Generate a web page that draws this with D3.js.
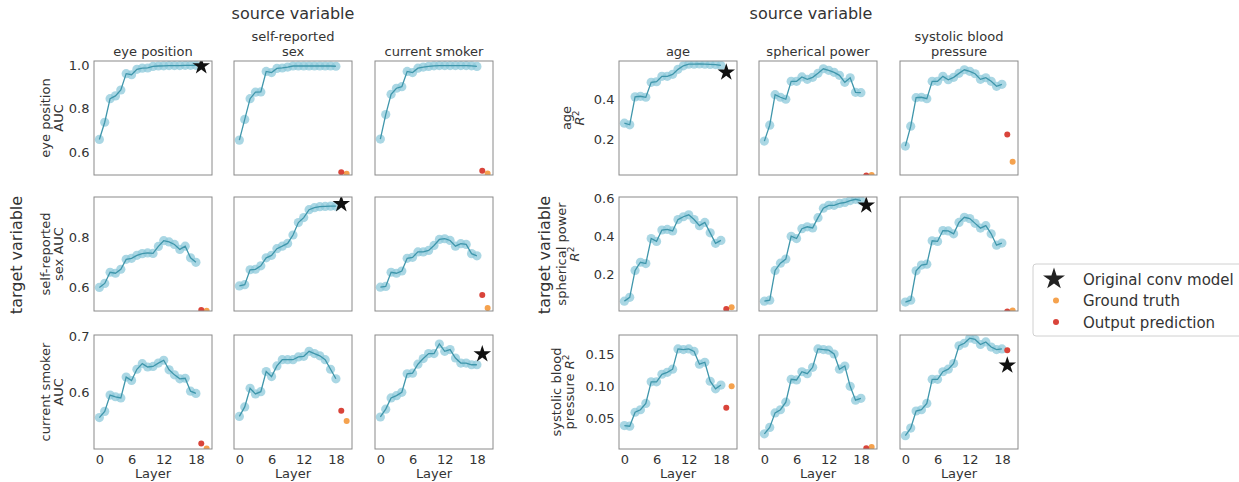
<!DOCTYPE html>
<html>
<head>
<meta charset="utf-8">
<script src="https://cdn.jsdelivr.net/npm/d3@7"></script>
<style>
body { margin: 0; background: #fff; }
svg { font-family: "DejaVu Sans", sans-serif; }
</style>
</head>
<body>
<svg id="chart" width="1239" height="482"></svg>
<script>
// layers on the x axis
var layers = [0,1,2,3,4,5,6,7,8,9,10,11,12,13,14,15,16,17,18]
var xTicks = [0, 6, 12, 18]

// left group : AUC, target rows x source columns
var leftSources = [["eye position"], ["self-reported", "sex"], ["current smoker"]]
var leftTargets = [["eye position", "AUC"], ["self-reported", "sex AUC"], ["current smoker", "AUC"]]
var eye_eye = [0.658,0.737,0.845,0.858,0.885,0.96,0.955,0.98,0.985,0.986,0.993,0.995,0.996,0.997,0.997,0.997,0.998,0.998,0.998]
var eye_sex = [0.655,0.75,0.845,0.875,0.876,0.97,0.965,0.984,0.986,0.99,0.995,0.995,0.995,0.995,0.995,0.995,0.995,0.995,0.994]
var eye_smk = [0.66,0.772,0.865,0.893,0.9,0.97,0.965,0.985,0.99,0.993,0.996,0.997,0.997,0.997,0.997,0.997,0.997,0.996,0.993]
var sex_eye = [0.599,0.615,0.66,0.656,0.672,0.712,0.716,0.728,0.735,0.738,0.736,0.764,0.787,0.782,0.772,0.752,0.765,0.718,0.70]
var sex_sex = [0.605,0.61,0.67,0.672,0.686,0.718,0.728,0.755,0.765,0.776,0.81,0.86,0.88,0.912,0.92,0.924,0.925,0.926,0.926]
var sex_smk = [0.6,0.603,0.66,0.656,0.665,0.716,0.72,0.742,0.742,0.748,0.768,0.792,0.795,0.788,0.765,0.775,0.772,0.735,0.726]
var smk_eye = [0.555,0.566,0.595,0.592,0.59,0.627,0.621,0.641,0.651,0.645,0.646,0.652,0.657,0.64,0.631,0.624,0.625,0.602,0.598]
var smk_sex = [0.557,0.574,0.607,0.597,0.601,0.637,0.628,0.647,0.658,0.658,0.658,0.663,0.664,0.673,0.669,0.665,0.658,0.641,0.624]
var smk_smk = [0.556,0.57,0.59,0.594,0.6,0.633,0.634,0.65,0.66,0.669,0.669,0.686,0.673,0.676,0.661,0.652,0.652,0.649,0.649]
var leftPred  = [[null,0.508,0.515],[0.508,null,0.568],[0.509,0.567,null]]
var leftTruth = [[null,0.501,0.502],[0.505,null,0.516],[0.5,0.549,null]]
var leftOrig  = [0.995, 0.935, 0.668]
var leftYTicks = [[0.6,0.8,1.0],[0.6,0.8],[0.6,0.7]]

// right group : R^2
var rightSources = [["age"], ["spherical power"], ["systolic blood", "pressure"]]
var rightTargets = [["age", "R²"], ["spherical power", "R²"], ["systolic blood", "pressure R²"]]
var age_age = [0.28,0.272,0.412,0.415,0.41,0.485,0.488,0.515,0.515,0.525,0.55,0.568,0.576,0.576,0.577,0.576,0.575,0.574,0.57]
var age_sph = [0.19,0.27,0.423,0.41,0.4,0.49,0.49,0.512,0.5,0.51,0.53,0.553,0.545,0.535,0.52,0.485,0.508,0.435,0.433]
var age_sbp = [0.165,0.265,0.408,0.41,0.403,0.49,0.49,0.515,0.498,0.51,0.53,0.548,0.54,0.528,0.5,0.508,0.49,0.465,0.475]
var sph_age = [0.06,0.08,0.222,0.265,0.258,0.39,0.375,0.435,0.438,0.43,0.49,0.505,0.515,0.49,0.458,0.475,0.42,0.365,0.38]
var sph_sph = [0.06,0.065,0.222,0.26,0.282,0.402,0.39,0.442,0.452,0.446,0.5,0.55,0.565,0.565,0.575,0.58,0.59,0.597,0.59]
var sph_sbp = [0.055,0.065,0.22,0.25,0.255,0.378,0.375,0.432,0.43,0.415,0.475,0.502,0.495,0.47,0.445,0.458,0.415,0.355,0.366]
var sbp_age = [0.038,0.037,0.059,0.063,0.073,0.107,0.107,0.119,0.122,0.127,0.159,0.158,0.159,0.155,0.135,0.138,0.108,0.096,0.102]
var sbp_sph = [0.025,0.035,0.058,0.063,0.075,0.111,0.11,0.123,0.12,0.13,0.159,0.158,0.157,0.151,0.127,0.132,0.1,0.078,0.081]
var sbp_sbp = [0.022,0.034,0.061,0.063,0.073,0.111,0.111,0.123,0.127,0.136,0.164,0.168,0.176,0.174,0.166,0.17,0.162,0.158,0.159]
var rightPred  = [[null,0.018,0.223],[0.019,null,0.006],[0.066,0.002,0.157]]
var rightTruth = [[null,0.02,0.087],[0.028,null,0.01],[0.1,0.004,null]]
var rightOrig  = [0.535, 0.565, 0.133]
var rightYTicks = [[0.2,0.4],[0.2,0.4,0.6],[0.05,0.10,0.15]]

var legendLabels = ["Original conv model", "Ground truth", "Output prediction"]

var panelW = 118, panelH = 114
var rowTop = [61, 197, 335]
var lineColor = "#3f96ab", markerColor = "#8ecadb",
    predColor = "#d9443a", truthColor = "#f5a24e", textColor = "#333"

var groups = [
    {cols: [94, 234, 375], sources: leftSources, targets: leftTargets,
     series: [[eye_eye, eye_sex, eye_smk], [sex_eye, sex_sex, sex_smk], [smk_eye, smk_sex, smk_smk]],
     pred: leftPred, truth: leftTruth, orig: leftOrig, yTicks: leftYTicks,
     yDomains: [[0.495, 1.018], [0.504, 0.963], [0.499, 0.702]],
     fmt: [".1f", ".1f", ".1f"], labelX: [50, 50, 50], center: 293, targetX: 22},
    {cols: [619, 759, 900], sources: rightSources, targets: rightTargets,
     series: [[age_age, age_sph, age_sbp], [sph_age, sph_sph, sph_sbp], [sbp_age, sbp_sph, sbp_sbp]],
     pred: rightPred, truth: rightTruth, orig: rightOrig, yTicks: rightYTicks,
     yDomains: [[0.02, 0.592], [0.008, 0.609], [0.001, 0.181]],
     fmt: [".1f", ".1f", ".2f"], labelX: [571, 566, 561], center: 811, targetX: 550}
]

var svg = d3.select("#chart")
var x = d3.scaleLinear().domain([-1, 21]).range([0, panelW])
var star = d3.symbol().type(d3.symbolStar)
var clipId = 0

groups.forEach(function(grp) {
    // titulo do grupo
    svg.append("text")
        .attr("x", grp.center).attr("y", 19)
        .attr("text-anchor", "middle")
        .attr("font-size", 16).attr("fill", textColor)
        .text("source variable")

    svg.append("text")
        .attr("transform", "translate(" + grp.targetX + ",255) rotate(-90)")
        .attr("text-anchor", "middle")
        .attr("font-size", 16).attr("fill", textColor)
        .text("target variable")

    grp.sources.forEach(function(lines, c) {
        var t = svg.append("text")
            .attr("text-anchor", "middle")
            .attr("font-size", 13).attr("fill", textColor)
        lines.forEach(function(s, i) {
            t.append("tspan")
                .attr("x", grp.cols[c] + panelW / 2)
                .attr("y", 55.5 - (lines.length - 1 - i) * 14.5)
                .text(s)
        })
    })

    grp.targets.forEach(function(lines, r) {
        var t = svg.append("text")
            .attr("transform", "translate(" + grp.labelX[r] + "," + (rowTop[r] + panelH / 2) + ") rotate(-90)")
            .attr("text-anchor", "middle")
            .attr("font-size", 13).attr("fill", textColor)
        lines.forEach(function(s, i) {
            var ts = t.append("tspan").attr("x", 0).attr("y", i * 12.5)
            if (s.indexOf("R²") != -1) {
                ts.text(s.replace("R²", ""))
                ts.append("tspan").attr("font-style", "italic").text("R")
                ts.append("tspan").attr("font-size", 9).attr("dy", -5).text("2")
            } else {
                ts.text(s)
            }
        })
    })

    for (var r = 0; r < 3; r++) {
        var y = d3.scaleLinear().domain(grp.yDomains[r]).range([panelH, 0])
        for (var c = 0; c < 3; c++) {
            var g = svg.append("g")
                .attr("transform", "translate(" + grp.cols[c] + "," + rowTop[r] + ")")
            var id = "clip" + (clipId++)
            g.append("clipPath").attr("id", id)
                .append("rect").attr("width", panelW).attr("height", panelH)
            var plot = g.append("g").attr("clip-path", "url(#" + id + ")")
            var vals = grp.series[r][c]

            plot.selectAll("circle.m")
                .data(vals)
                .enter().append("circle")
                .attr("class", "m")
                .attr("cx", function(d, i) { return x(layers[i]) })
                .attr("cy", function(d) { return y(d) })
                .attr("r", 4.6)
                .attr("fill", markerColor)
                .attr("fill-opacity", 0.75)

            plot.append("path")
                .datum(vals)
                .attr("fill", "none")
                .attr("stroke", lineColor)
                .attr("stroke-width", 1.3)
                .attr("d", d3.line()
                    .x(function(d, i) { return x(layers[i]) })
                    .y(function(d) { return y(d) }))

            if (grp.truth[r][c] != null)
                plot.append("circle").attr("cx", x(20)).attr("cy", y(grp.truth[r][c]))
                    .attr("r", 3).attr("fill", truthColor)
            if (grp.pred[r][c] != null)
                plot.append("circle").attr("cx", x(19)).attr("cy", y(grp.pred[r][c]))
                    .attr("r", 3).attr("fill", predColor)
            if (r == c)
                plot.append("path")
                    .attr("transform", "translate(" + x(19) + "," + y(grp.orig[r]) + ")")
                    .attr("d", star.size(95)())
                    .attr("fill", "#111")

            g.append("rect")
                .attr("width", panelW).attr("height", panelH)
                .attr("fill", "none").attr("stroke", "#8a8a8a").attr("stroke-width", 1)

            if (c == 0) {
                var ya = g.append("g")
                    .call(d3.axisLeft(y).tickValues(grp.yTicks[r]).tickFormat(d3.format(grp.fmt[r]))
                        .tickSize(0).tickPadding(4.5))
                ya.select(".domain").remove()
                ya.selectAll("text").attr("font-size", 13).attr("fill", textColor)
                    .attr("font-family", "DejaVu Sans, sans-serif")
            }
            if (r == 2) {
                var xa = g.append("g").attr("transform", "translate(0," + panelH + ")")
                    .call(d3.axisBottom(x).tickValues(xTicks).tickFormat(d3.format("d"))
                        .tickSize(0).tickPadding(6))
                xa.select(".domain").remove()
                xa.selectAll("text").attr("font-size", 13).attr("fill", textColor)
                    .attr("font-family", "DejaVu Sans, sans-serif")
                g.append("text")
                    .attr("x", panelW / 2).attr("y", 477.5 - rowTop[r])
                    .attr("text-anchor", "middle")
                    .attr("font-size", 13).attr("fill", textColor)
                    .text("Layer")
            }
        }
    }
})

// legenda
var leg = svg.append("g").attr("transform", "translate(1033,264)")
leg.append("rect")
    .attr("width", 230).attr("height", 72).attr("rx", 3)
    .attr("fill", "#fff").attr("stroke", "#d0d0d0")
leg.append("path")
    .attr("transform", "translate(21,15)")
    .attr("d", star.size(150)())
    .attr("fill", "#222")
leg.append("circle").attr("cx", 23).attr("cy", 36.5).attr("r", 3).attr("fill", truthColor)
leg.append("circle").attr("cx", 23).attr("cy", 58).attr("r", 3).attr("fill", predColor)
leg.selectAll("text.l")
    .data(legendLabels)
    .enter().append("text")
    .attr("class", "l")
    .attr("x", 50)
    .attr("y", function(d, i) { return 20.5 + i * 21.5 })
    .attr("font-size", 15).attr("fill", textColor)
    .text(function(d) { return d })
</script>
</body>
</html>
